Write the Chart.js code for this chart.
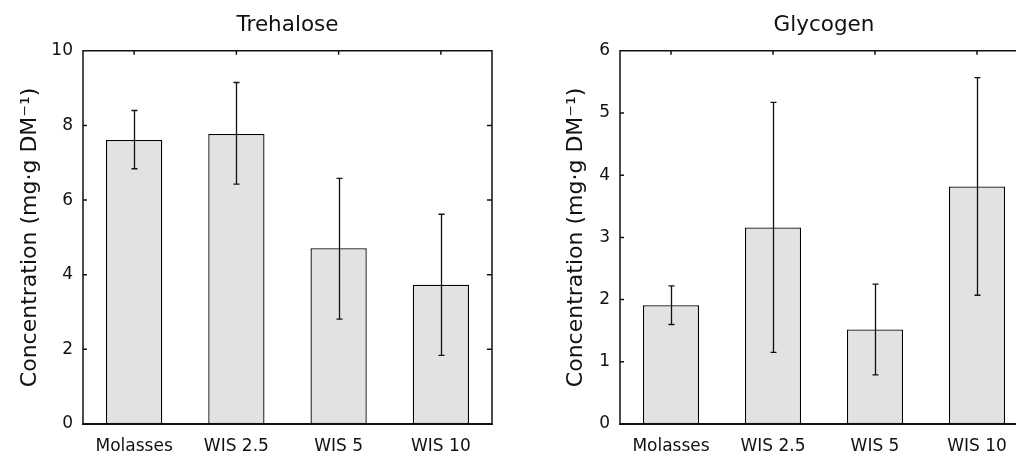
<!DOCTYPE html>
<html>
<head>
<meta charset="utf-8">
<script src="https://cdn.jsdelivr.net/npm/chart.js@4"></script>
<style>
  html, body { margin: 0; padding: 0; background: #fff; overflow: hidden; }
  body { width: 1016px; height: 454px; position: relative; }
  .panel { position: absolute; top: 0; height: 454px; }
</style>
</head>
<body>
<div class="panel" style="left:0;width:520px"><canvas id="trehalose-chart" width="520" height="454"></canvas></div>
<div class="panel" style="left:520px;width:536px"><canvas id="glycogen-chart" width="536" height="454"></canvas></div>
<script>
const categories = ["Molasses", "WIS 2.5", "WIS 5", "WIS 10"];

// Trehalose (mg/g DM)
const trehaloseMean = [7.61, 7.77, 4.71, 3.73];
const trehaloseLow = [6.84, 6.43, 2.81, 1.84];
const trehaloseHigh = [8.40, 9.15, 6.58, 5.62];

// Glycogen (mg/g DM)
const glycogenMean = [1.91, 3.16, 1.52, 3.82];
const glycogenLow = [1.60, 1.15, 0.79, 2.07];
const glycogenHigh = [2.22, 5.17, 2.25, 5.57];

const FONT = "'DejaVu Sans', Verdana, sans-serif";
const INK = "#111";

// error bars from the low/high arrays, placed with the y scale
const errorBars = {
  id: "errorBars",
  afterDatasetsDraw(chart, args, opts) {
    const { ctx } = chart;
    const y = chart.scales.y;
    const meta = chart.getDatasetMeta(0);
    ctx.save();
    ctx.strokeStyle = INK;
    ctx.lineWidth = 1.3;
    meta.data.forEach((bar, i) => {
      const x = Math.round(bar.x) + 0.5;
      const yLo = y.getPixelForValue(opts.low[i]);
      const yHi = y.getPixelForValue(opts.high[i]);
      ctx.beginPath();
      ctx.moveTo(x, yLo); ctx.lineTo(x, yHi);
      ctx.moveTo(x - 3, yLo); ctx.lineTo(x + 3, yLo);
      ctx.moveTo(x - 3, yHi); ctx.lineTo(x + 3, yHi);
      ctx.stroke();
    });
    ctx.restore();
  }
};

// box round the plot with inward ticks
const frame = {
  id: "frame",
  afterDatasetsDraw(chart) {
    const { ctx, chartArea: a } = chart;
    const x = chart.scales.x, y = chart.scales.y;
    ctx.save();
    ctx.strokeStyle = INK;
    ctx.lineWidth = 1.5;
    ctx.beginPath();
    ctx.moveTo(a.left, a.bottom); ctx.lineTo(a.left, a.top);
    ctx.lineTo(a.right, a.top); ctx.lineTo(a.right, a.bottom);
    y.ticks.forEach((t, i) => {
      const py = y.getPixelForTick(i);
      ctx.moveTo(a.left, py); ctx.lineTo(a.left + 4, py);
      ctx.moveTo(a.right, py); ctx.lineTo(a.right - 5, py);
    });
    x.ticks.forEach((t, i) => {
      const px = x.getPixelForTick(i);
      ctx.moveTo(px, a.top); ctx.lineTo(px, a.top + 4);
    });
    ctx.stroke();
    ctx.lineWidth = 2;
    ctx.beginPath();
    ctx.moveTo(a.left - 1, a.bottom); ctx.lineTo(a.right + 1, a.bottom);
    ctx.stroke();
    ctx.restore();
  }
};

function makeChart(id, title, mean, low, high, yMax, step, axisWidth, titlePad) {
  return new Chart(document.getElementById(id).getContext("2d"), {
    type: "bar",
    data: {
      labels: categories,
      datasets: [{
        data: mean,
        backgroundColor: "#e1e2e1",
        borderColor: "#000",
        borderWidth: 1.3,
        borderSkipped: false,
        categoryPercentage: 1,
        barPercentage: 0.55,
      }],
    },
    options: {
      responsive: false,
      animation: false,
      layout: { padding: { left: 0, right: 28, top: 0, bottom: 0 } },
      plugins: {
        legend: { display: false },
        tooltip: { enabled: false },
        title: {
          display: true,
          text: title,
          fullSize: false,
          color: INK,
          font: { family: FONT, size: 21.5, weight: "normal", lineHeight: 1.2 },
          padding: { top: 13, bottom: 12 },
        },
        errorBars: { low, high },
      },
      scales: {
        x: {
          grid: { display: false },
          border: { display: false },
          ticks: { color: INK, padding: 4, font: { family: FONT, size: 17 } },
          afterFit: (s) => { s.height = 30; },
        },
        y: {
          min: 0,
          max: yMax,
          grid: { display: false, drawTicks: false },
          border: { display: false },
          ticks: { stepSize: step, color: INK, padding: 10, font: { family: FONT, size: 17 } },
          title: {
            display: true,
            text: "Concentration (mg·g DM⁻¹)",
            color: INK,
            font: { family: FONT, size: 22 },
            padding: { top: titlePad, bottom: 0 },
          },
          afterFit: (s) => { s.width = axisWidth; },
        },
      },
    },
    plugins: [errorBars, frame],
  });
}

makeChart("trehalose-chart", "Trehalose", trehaloseMean, trehaloseLow, trehaloseHigh, 10, 2, 83, 17);
makeChart("glycogen-chart", "Glycogen", glycogenMean, glycogenLow, glycogenHigh, 6, 1, 100, 43);
</script>
</body>
</html>
